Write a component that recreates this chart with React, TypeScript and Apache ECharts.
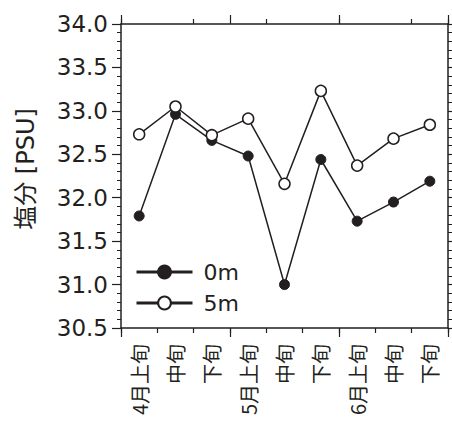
import React, { useEffect, useRef } from "react";
import * as echarts from "echarts";

const categories = ["4月上旬", "中旬", "下旬", "5月上旬", "中旬", "下旬", "6月上旬", "中旬", "下旬"];
const surface0m = [31.79, 32.96, 32.66, 32.48, 31.0, 32.44, 31.73, 31.95, 32.19];
const depth5m = [32.73, 33.05, 32.72, 32.91, 32.16, 33.23, 32.37, 32.68, 32.84];
const yMin = 30.5;
const yMax = 34.0;
const yInterval = 0.5;

const INK = "#231f20";
const LATIN = "DejaVu Sans";
const CJK = "'Noto Sans CJK JP'";

export default function App() {
  const ref = useRef<HTMLDivElement>(null);
  useEffect(() => {
    if (!ref.current) return;
    const chart = echarts.init(ref.current, undefined, { renderer: "svg" });
    const lineAxis = { show: true, lineStyle: { color: INK, width: 1.5 } };
    const baseX = {
      type: "category" as const,
      data: categories,
      boundaryGap: true,
      axisLabel: { show: false },
      splitLine: { show: false },
    };
    const yBase = {
      type: "value" as const,
      min: yMin,
      max: yMax,
      interval: yInterval,
      splitLine: { show: false },
      axisLine: lineAxis,
      axisTick: { show: true, inside: false, length: 9, lineStyle: { color: INK, width: 1.2 } },
      minorTick: { show: true, splitNumber: 5, length: 4, lineStyle: { color: INK, width: 1 } },
    };
    chart.setOption({
      animation: false,
      backgroundColor: "#ffffff",
      grid: { left: 121, right: 4, top: 24, bottom: 97, containLabel: false, outerBoundsMode: "none" },
      legend: {
        show: true,
        orient: "vertical",
        left: 135,
        top: 261,
        padding: 0,
        itemWidth: 56,
        itemHeight: 16,
        itemGap: 9,
        data: ["0m", "5m"],
        lineStyle: { width: 3 },
        textStyle: { color: INK, fontSize: 22, fontFamily: LATIN, padding: [0, 0, 0, 6] },
      },
      xAxis: [
        {
          ...baseX,
          position: "bottom",
          axisLine: lineAxis,
          axisTick: { show: true, inside: false, length: 5, lineStyle: { color: INK, width: 1.2 } },
          axisLabel: {
            show: true,
            rotate: 90,
            margin: 16,
            color: INK,
            fontSize: 20,
            fontFamily: CJK,
          },
        },
        {
          ...baseX,
          position: "bottom",
          axisLine: { show: false },
          axisTick: {
            show: true,
            inside: false,
            length: 9,
            interval: (i: number) => i % 3 === 0,
            lineStyle: { color: INK, width: 1.2 },
          },
        },
        {
          ...baseX,
          position: "top",
          axisLine: lineAxis,
          axisTick: { show: true, inside: false, length: 5, lineStyle: { color: INK, width: 1.2 } },
        },
        {
          ...baseX,
          position: "top",
          axisLine: { show: false },
          axisTick: {
            show: true,
            inside: false,
            length: 9,
            interval: (i: number) => i % 3 === 0,
            lineStyle: { color: INK, width: 1.2 },
          },
        },
      ],
      yAxis: [
        {
          ...yBase,
          position: "left",
          name: "塩分 [PSU]",
          nameLocation: "middle",
          nameRotate: 90,
          nameGap: 83,
          nameTextStyle: {
            color: INK,
            fontSize: 24,
            fontFamily: `${LATIN}, ${CJK}`,
            padding: [0, 0, 0, 14],
          },
          axisLabel: {
            show: true,
            margin: 13,
            color: INK,
            fontSize: 23,
            fontFamily: LATIN,
            formatter: (v: number) => v.toFixed(1),
          },
        },
        {
          ...yBase,
          position: "right",
          axisLabel: { show: false },
        },
      ],
      series: [
        {
          name: "0m",
          type: "line",
          xAxisIndex: 0,
          yAxisIndex: 0,
          data: surface0m,
          symbol: "circle",
          symbolSize: 10,
          lineStyle: { color: INK, width: 1.5 },
          itemStyle: { color: INK, borderColor: INK, borderWidth: 1 },
          z: 3,
        },
        {
          name: "5m",
          type: "line",
          xAxisIndex: 0,
          yAxisIndex: 0,
          data: depth5m,
          symbol: "circle",
          symbolSize: 11,
          lineStyle: { color: INK, width: 1.5 },
          itemStyle: { color: "#ffffff", borderColor: INK, borderWidth: 1.5 },
          z: 4,
        },
      ],
    });
    return () => chart.dispose();
  }, []);
  return <div ref={ref} style={{ width: 452, height: 425, position: "absolute", left: 0, top: 0 }} />;
}
